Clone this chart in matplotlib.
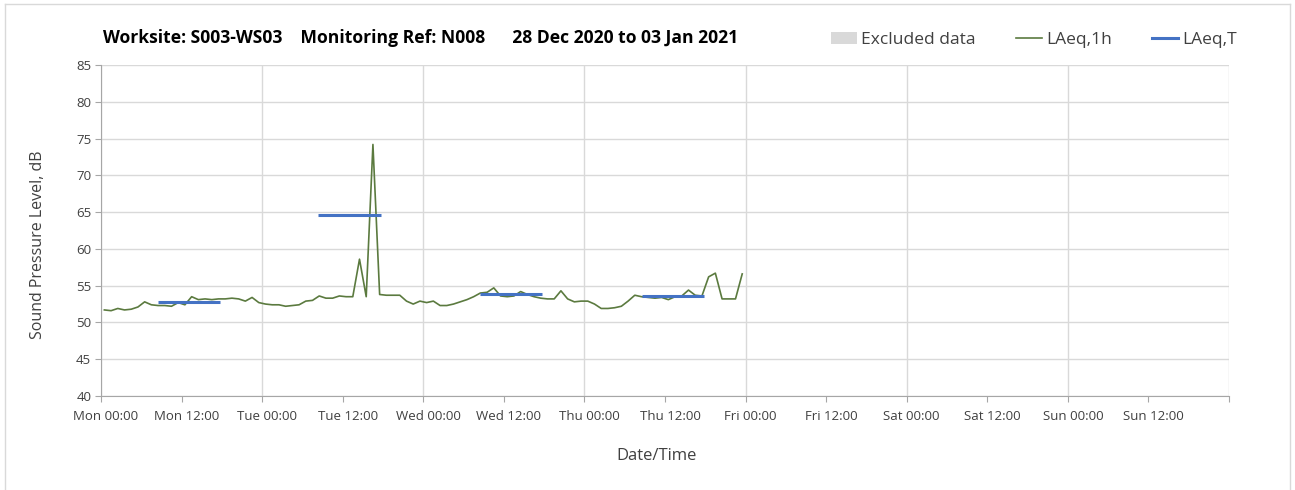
import matplotlib
matplotlib.use("Agg")
import matplotlib.pyplot as plt
import matplotlib.dates as mdates
from matplotlib.lines import Line2D
from matplotlib.patches import Patch
from matplotlib.transforms import ScaledTranslation
import numpy as np
import pandas as pd

plt.rcParams['font.family'] = ['Open Sans', 'DejaVu Sans']

# hourly LAeq,1h values, Mon 28 Dec 2020 00:30 onwards
start_time = "2020-12-28 00:30"
laeq_1h = [51.7, 51.6, 51.9, 51.7, 51.8, 52.1, 52.8, 52.4, 52.3, 52.3, 52.2, 52.7,
           52.4, 53.5, 53.1, 53.2, 53.1, 53.2, 53.2, 53.3, 53.2, 52.9, 53.4, 52.7,
           52.5, 52.4, 52.4, 52.2, 52.3, 52.4, 52.9, 53.0, 53.6, 53.3, 53.3, 53.6,
           53.5, 53.5, 58.6, 53.5, 74.2, 53.8, 53.7, 53.7, 53.7, 52.9, 52.5, 52.9,
           52.7, 52.9, 52.3, 52.3, 52.5, 52.8, 53.1, 53.5, 54.0, 54.1, 54.7, 53.6,
           53.5, 53.6, 54.2, 53.8, 53.5, 53.3, 53.2, 53.2, 54.3, 53.2, 52.8, 52.9,
           52.9, 52.5, 51.9, 51.9, 52.0, 52.2, 52.9, 53.7, 53.5, 53.4, 53.3, 53.4,
           53.1, 53.5, 53.6, 54.4, 53.7, 53.6, 56.2, 56.7, 53.2, 53.2, 53.2, 56.6]

# LAeq,T period values
period_start = ["2020-12-28 08:30", "2020-12-29 08:20", "2020-12-30 08:30", "2020-12-31 08:30"]
period_end = ["2020-12-28 17:45", "2020-12-29 17:45", "2020-12-30 17:45", "2020-12-31 17:45"]
laeq_t = [52.8, 64.6, 53.9, 53.6]

# no excluded periods in this week
excluded_start = []
excluded_end = []

week_start = pd.Timestamp("2020-12-28 00:00")
week_end = pd.Timestamp("2021-01-04 00:00")

times = pd.date_range(start_time, periods=len(laeq_1h), freq="h")

fig = plt.figure(figsize=(12.95, 4.9), dpi=100)
ax = fig.add_axes([101 / 1295, 1 - 396 / 490, 1128 / 1295, 331 / 490])

green = '#5B7A3F'
blue = '#4472C4'
grey = '#D9D9D9'

for s, e in zip(excluded_start, excluded_end):
    ax.axvspan(pd.Timestamp(s), pd.Timestamp(e), color=grey, lw=0)

ax.plot(times, laeq_1h, color=green, lw=1.2)
for s, e, v in zip(period_start, period_end, laeq_t):
    ax.plot([pd.Timestamp(s), pd.Timestamp(e)], [v, v], color=blue, lw=2.2, solid_capstyle='butt')

ax.set_xlim(week_start, week_end)
ax.set_ylim(40, 85)
ax.set_yticks(np.arange(40, 86, 5))

ax.xaxis.set_major_locator(mdates.HourLocator(byhour=[0, 12]))
ax.xaxis.set_minor_locator(mdates.DayLocator())
ax.xaxis.remove_overlapping_locs = False


def fmt(x, pos):
    d = mdates.num2date(x).replace(tzinfo=None)
    if d >= week_end.to_pydatetime():
        return ''
    return d.strftime('%a %H:%M')


ax.xaxis.set_major_formatter(plt.FuncFormatter(fmt))

ax.grid(which='major', axis='y', color=grey, lw=1.0)
ax.grid(which='minor', axis='x', color=grey, lw=1.0)
ax.set_axisbelow(True)
for side in ['top', 'right']:
    ax.spines[side].set_visible(False)
for side in ['left', 'bottom']:
    ax.spines[side].set_color('#A6A6A6')
ax.tick_params(axis='y', which='major', length=4, color='#A6A6A6', labelsize=9.5, labelcolor='#404040', pad=3)
ax.tick_params(axis='x', which='major', length=4, color='#A6A6A6', labelsize=9.5, labelcolor='#404040', pad=6)
ax.tick_params(axis='x', which='minor', length=0)

# labels sit a few pixels right of their ticks, as in the source chart
fig.canvas.draw()
for lab in ax.get_xticklabels():
    lab.set_transform(lab.get_transform() + ScaledTranslation(5 / 100, 0, fig.dpi_scale_trans))

ax.set_ylabel("Sound Pressure Level, dB", fontsize=11.5, color='#404040')
ax.yaxis.set_label_coords((38 - 101) / 1128, (396 - 245) / 331)
ax.set_xlabel("Date/Time", fontsize=12, color='#404040')
ax.xaxis.set_label_coords((657 - 101) / 1128, (396 - 456) / 331)
ax.xaxis.label.set_va('center')
ax.yaxis.label.set_va('center')

fig.text(103 / 1295, 1 - 38 / 490, "Worksite: S003-WS03    Monitoring Ref: N008      28 Dec 2020 to 03 Jan 2021",
         fontsize=12.6, fontweight='bold', va='center', ha='left', color='black')

handles = [Patch(facecolor=grey, edgecolor='none'),
           Line2D([], [], color=green, lw=1.2),
           Line2D([], [], color=blue, lw=2.2)]
fig.legend(handles, ["Excluded data", "LAeq,1h", "LAeq,T"], ncol=3, frameon=False,
           loc='center right', bbox_to_anchor=(1249 / 1295, 1 - 40 / 490), fontsize=12.5,
           handlelength=1.5, handletextpad=0.25, columnspacing=2.3, labelcolor='#404040',
           borderpad=0.2)

# outer chart border (left, top, right)
for xs, ys in [([5, 5], [0, 486]), ([5, 1290], [486, 486]), ([1290, 1290], [0, 486])]:
    fig.add_artist(Line2D(np.array(xs) / 1295, np.array(ys) / 490, color=grey, lw=1.0))

fig.savefig("out.png", dpi=100)
